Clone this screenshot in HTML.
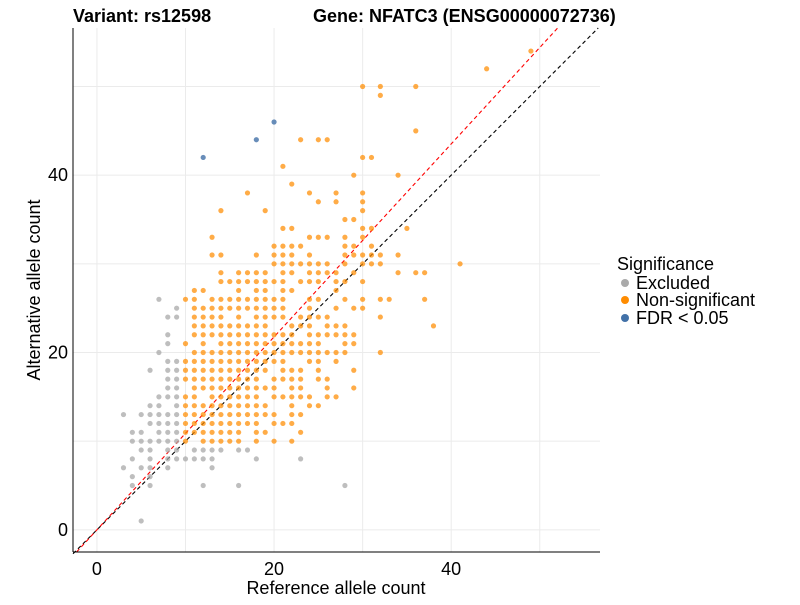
<!DOCTYPE html>
<html><head><meta charset="utf-8"><style>
body{margin:0;background:#fff;font-family:"Liberation Sans",Arial,sans-serif;}
svg text{font-family:"Liberation Sans",Arial,sans-serif;}
</style></head><body>
<svg id="chart" width="800" height="600" xmlns="http://www.w3.org/2000/svg">
<g id="grid"></g>
<g id="lines"></g>
<g id="pts"></g>
<g id="axes"></g>
<text x="73" y="22" font-size="18" font-weight="bold">Variant: rs12598</text>
<text x="313" y="22" font-size="18" font-weight="bold">Gene: NFATC3 (ENSG00000072736)</text>
<text x="336" y="594" font-size="18" text-anchor="middle">Reference allele count</text>
<text transform="translate(40,290) rotate(-90)" font-size="18" text-anchor="middle">Alternative allele count</text>
<g>
<text x="617" y="270" font-size="18">Significance</text>
<circle cx="625" cy="283" r="4" fill="#aaaaaa"/>
<text x="636" y="289" font-size="18">Excluded</text>
<circle cx="625" cy="300" r="4" fill="#ff8c00"/>
<text x="636" y="306" font-size="18">Non-significant</text>
<circle cx="625" cy="318" r="4" fill="#4271a8"/>
<text x="636" y="324" font-size="18">FDR &lt; 0.05</text>
</g>
</svg>
<script>
const xTicks=[0,20,40];
const yTicks=[0,20,40];
const gridVals=[0,10,20,30,40,50];
const excluded=[[7,26],[9,25],[8,24],[9,24],[8,22],[8,21],[7,20],[8,19],[9,19],[6,18],[8,18],[9,18],[8,17],[9,17],[8,16],[9,16],[7,15],[8,15],[9,15],[6,14],[7,14],[9,14],[3,13],[5,13],[6,13],[7,13],[8,13],[9,13],[6,12],[7,12],[8,12],[9,12],[4,11],[5,11],[7,11],[8,11],[9,11],[4,10],[5,10],[6,10],[7,10],[8,10],[9,10],[5,9],[6,9],[8,9],[9,9],[11,9],[12,9],[13,9],[14,9],[16,9],[17,9],[4,8],[6,8],[8,8],[9,8],[10,8],[11,8],[12,8],[13,8],[18,8],[23,8],[3,7],[5,7],[6,7],[8,7],[13,7],[4,6],[6,6],[4,5],[6,5],[12,5],[16,5],[28,5],[5,1]];
const fdr=[[12,42],[18,44],[20,46]];
const rows={
10:[10,12,13,14,15,16,18,20,22],11:[10,11,12,13,14,15,16,18,19,23],12:[10,11,12,13,14,15,16,17,18,20,21,22],13:[10,11,12,13,14,15,16,17,18,19,20,22,23],14:[10,11,12,13,14,15,16,17,18,19,22,24,25],15:[10,11,13,14,15,16,17,18,20,21,22,23,24,26,27],16:[11,12,13,14,15,16,17,18,19,20,22,23,26,29],17:[10,11,12,13,14,15,16,17,18,20,21,22,23,25,26],18:[10,11,12,13,14,15,16,17,18,19,21,22,23,25,29],19:[10,11,12,13,14,15,16,17,18,19,20,21,24,25,27],20:[11,12,13,14,15,16,17,18,19,20,21,22,23,24,25,26,27,28,32],21:[10,12,14,15,16,17,18,19,20,21,22,23,24,25,28,29],22:[11,12,13,14,15,16,17,18,19,20,21,22,24,25,26,27,28,29],23:[11,12,13,14,15,16,17,18,19,22,23,24,26,27,28,38],24:[11,12,13,14,16,18,19,20,21,23,24,25,26,32],25:[11,12,13,14,15,16,17,18,19,20,21,24,27,29,30],26:[10,11,13,14,15,16,17,18,19,20,21,24,25,28,30,32,33,37],27:[11,12,16,18,19,21,22,27],28:[14,15,16,17,18,19,20,21,23,24,25,27,28,30],29:[14,16,17,18,19,21,22,24,25,26,27,29,34,36,37],30:[20,21,22,23,24,25,26,28,30,31,32,41],31:[13,14,18,20,21,22,24,28,29,30,31,32,34],32:[20,21,22,23,28,29,31],33:[13,24,25,26,28,30],34:[21,22,30,31,35],35:[28,29],36:[14,19,30],37:[25,27,30],38:[17,24,27,30],39:[22],40:[29,34],41:[21],42:[30,31],44:[23,25,26],45:[36],49:[32],50:[30,32,36],52:[44],54:[49]};
const NS="http://www.w3.org/2000/svg";
const L=73,R=600,T=28,B=552;
const xMin=-2.7,xMax=56.8,yMin=-2.5,yMax=56.6;
function sx(v){return L+(v-xMin)/(xMax-xMin)*(R-L);}
function sy(v){return B-(v-yMin)/(yMax-yMin)*(B-T);}
function mk(t,a,p){const e=document.createElementNS(NS,t);for(const k in a)e.setAttribute(k,a[k]);p.appendChild(e);return e;}
const grid=document.getElementById('grid');
gridVals.forEach(v=>{
 const g1=mk('line',{x1:sx(v),x2:sx(v),y1:T,y2:B,stroke:'#ebebeb','stroke-width':1},grid);
 
 
 const g2=mk('line',{x1:L,x2:R,y1:sy(v),y2:sy(v),stroke:'#ebebeb','stroke-width':1},grid);
 
 
});
const pts=document.getElementById('pts');
excluded.forEach(p=>{
 const c=mk('circle',{cx:sx(p[0]),cy:sy(p[1]),r:2.6,fill:'#a8a8a8','fill-opacity':0.75},pts);
 
 
});
Object.keys(rows).forEach(y=>{
 rows[y].forEach(x=>{
  const c=mk('circle',{cx:sx(x),cy:sy(+y),r:2.6,fill:'#ff8c00','fill-opacity':0.72},pts);
  
  
 });
});
fdr.forEach(p=>{
 const c=mk('circle',{cx:sx(p[0]),cy:sy(p[1]),r:2.6,fill:'#4271a8','fill-opacity':0.8},pts);
 
 
});
const lines=document.getElementById('lines');
const lb=mk('line',{x1:sx(-2.7),y1:sy(-2.7),x2:sx(56.6),y2:sy(56.6),stroke:'#000','stroke-width':1.1,'stroke-dasharray':'4 3'},lines);


const slope=1.088;
const lr=mk('line',{x1:sx(-2.3),y1:sy(-2.3*slope),x2:sx(56.6/slope),y2:sy(56.6),stroke:'#ff0000','stroke-width':1.1,'stroke-dasharray':'4 3'},lines);


const axes=document.getElementById('axes');
const ax=mk('line',{x1:L,x2:R,y1:B,y2:B,stroke:'#000','stroke-width':1},axes);


const ay=mk('line',{x1:L,x2:L,y1:T,y2:B,stroke:'#000','stroke-width':1},axes);


xTicks.forEach(v=>{
 const t=mk('text',{x:sx(v),y:575,'font-size':18,'text-anchor':'middle',fill:'#000'},axes);
 t.textContent=v;
 
 
});
yTicks.forEach(v=>{
 const t=mk('text',{x:L-5,y:sy(v)+6,'font-size':18,'text-anchor':'end',fill:'#000'},axes);
 t.textContent=v;
 
 
});
</script>
</body></html>
